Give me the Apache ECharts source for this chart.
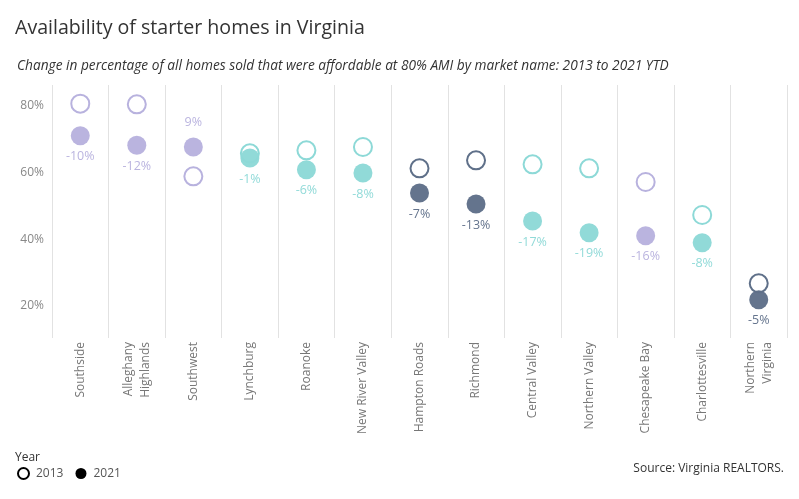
<!DOCTYPE html>
<html><head><meta charset="utf-8">
<script src="https://cdn.jsdelivr.net/npm/echarts@6/dist/echarts.min.js"></script>
<style>html,body{margin:0;padding:0;background:#fff}#c{width:799px;height:499px}</style>
</head><body><div id="c"></div>
<script>
const categories = ['Southside','Alleghany\nHighlands','Southwest','Lynchburg','Roanoke','New River Valley','Hampton Roads','Richmond','Central Valley','Northern Valley','Chesapeake Bay','Charlottesville','Northern\nVirginia'];
const values2013 = [80.7, 80.5, 58.9, 65.8, 66.7, 67.7, 61.3, 63.7, 62.5, 61.3, 57.2, 47.3, 26.8];
const values2021 = [71.1, 68.2, 67.7, 64.4, 60.9, 59.9, 53.9, 50.6, 45.5, 42.0, 41.1, 39.0, 21.9];
const changeLabels = ['-10%','-12%','9%','-1%','-6%','-8%','-7%','-13%','-17%','-19%','-16%','-8%','-5%'];
const groups = ['p','p','p','t','t','t','d','d','t','t','p','t','d'];
const yTicks = [20, 40, 60, 80];

const palette = {p:'#b8b2de', t:'#8dd9d7', d:'#5f7089'};
const FONT = '"Open Sans", Lato, sans-serif';

const s2013 = values2013.map((v,i)=>({value:v, itemStyle:{color:'#fff', borderColor:palette[groups[i]], borderWidth:2, opacity:1}}));
const s2021 = values2021.map((v,i)=>{
  const up = v > values2013[i];
  return {value:v, itemStyle:{color:palette[groups[i]], opacity:0.97},
    label:{show:true, position: up ? 'top' : 'bottom', distance: up ? 9 : 5, color:palette[groups[i]], formatter: changeLabels[i]}};
});

const chart = echarts.init(document.getElementById('c'), null, {renderer:'canvas'});
chart.setOption({
  animation:false,
  textStyle:{fontFamily:FONT},
  title:[
    {text:'Availability of starter homes in Virginia', left:10, top:13, textStyle:{fontFamily:FONT, fontSize:19.6, fontWeight:'normal', color:'#333'}},
    {text:'Change in percentage of all homes sold that were affordable at 80% AMI by market name: 2013 to 2021 YTD', left:12, top:54, textStyle:{fontFamily:FONT, fontSize:13.7, fontStyle:'italic', fontWeight:'normal', color:'#333'}},
    {text:'Year', left:10, top:447, textStyle:{fontFamily:FONT, fontSize:12, fontWeight:'normal', color:'#333'}},
    {text:'Source: Virginia REALTORS.', right:10, top:458, textStyle:{fontFamily:FONT, fontSize:12, fontWeight:'normal', color:'#333'}}
  ],
  legend:{
    left:17, top:467, padding:0, itemWidth:11, itemHeight:11, itemGap:12, selectedMode:false,
    textStyle:{fontFamily:FONT, fontSize:12, color:'#555', padding:[0,0,0,2]},
    data:[
      {name:'2013', icon:'circle', itemStyle:{color:'#fff', borderColor:'#000', borderWidth:2, opacity:1}},
      {name:'2021', icon:'circle', itemStyle:{color:'#000', borderWidth:0, opacity:1}}
    ]
  },
  grid:{left:52, right:12, top:85, bottom:161, containLabel:false},
  xAxis:{
    type:'category', data:categories, boundaryGap:true,
    axisLine:{show:false}, axisTick:{show:false},
    splitLine:{show:true, lineStyle:{color:'#e2e2e2', width:1}},
    axisLabel:{rotate:90, interval:0, margin:4, color:'#777', fontFamily:FONT, fontSize:12, lineHeight:17}
  },
  yAxis:{
    type:'value', min:10.4, max:86.3,
    axisLine:{show:false}, axisTick:{show:false}, splitLine:{show:false},
    axisLabel:{customValues:yTicks, formatter:v=>v+'%', color:'#888', fontFamily:FONT, fontSize:12, margin:8}
  },
  series:[
    {name:'2013', type:'scatter', symbol:'circle', symbolSize:18, data:s2013, z:2, color:'#000'},
    {name:'2021', type:'scatter', symbol:'circle', symbolSize:19, data:s2021, z:3, color:'#000',
      label:{fontFamily:FONT, fontSize:12.5}}
  ]
});
</script></body></html>
